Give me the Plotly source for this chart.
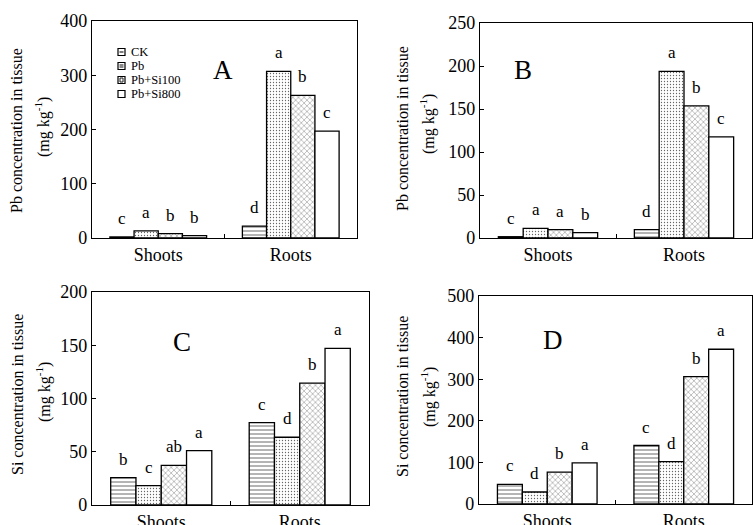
import plotly.graph_objects as go

categories = ["Shoots", "Roots"]
treatments = ["CK", "Pb", "Pb+Si100", "Pb+Si800"]

# Panel A: Pb concentration (mg kg-1)
A_vals = {
    "CK": [2, 22],
    "Pb": [13, 307],
    "Pb+Si100": [8, 263],
    "Pb+Si800": [4.5, 197],
}
A_letters = {"CK": ["c", "d"], "Pb": ["a", "a"], "Pb+Si100": ["b", "b"], "Pb+Si800": ["b", "c"]}

# Panel B
B_vals = {
    "CK": [1.5, 9.7],
    "Pb": [11.3, 193.7],
    "Pb+Si100": [9.7, 153.7],
    "Pb+Si800": [6.2, 117.6],
}
B_letters = {"CK": ["c", "d"], "Pb": ["a", "a"], "Pb+Si100": ["a", "b"], "Pb+Si800": ["b", "c"]}

# Panel C: Si concentration
C_vals = {
    "CK": [25.7, 77.4],
    "Pb": [18.2, 63.6],
    "Pb+Si100": [37.3, 114.4],
    "Pb+Si800": [51.1, 147],
}
C_letters = {"CK": ["b", "c"], "Pb": ["c", "d"], "Pb+Si100": ["ab", "b"], "Pb+Si800": ["a", "a"]}

# Panel D
D_vals = {
    "CK": [47, 140.6],
    "Pb": [28.8, 102],
    "Pb+Si100": [76.7, 306],
    "Pb+Si800": [99, 372],
}
D_letters = {"CK": ["c", "c"], "Pb": ["d", "d"], "Pb+Si100": ["b", "b"], "Pb+Si800": ["a", "a"]}

panel_names = ["A", "B", "C", "D"]
y_ranges = [400, 250, 200, 500]
y_dtick = [100, 50, 50, 100]
y_titles = ["Pb concentration in tissue", "Pb concentration in tissue",
            "Si concentration in tissue", "Si concentration in tissue"]

FONT = "Liberation Serif, Times New Roman, serif"
patterns = {
    "CK": dict(shape="-", size=4, solidity=0.2, fgcolor="#444", bgcolor="white"),
    "Pb": dict(shape=".", size=3, solidity=0.15, fgcolor="#666", bgcolor="white"),
    "Pb+Si100": dict(shape="x", size=4, solidity=0.18, fgcolor="#555", bgcolor="white"),
    "Pb+Si800": dict(shape="", bgcolor="white"),
}

W, H = 753, 525
domains = [
    ((92, 357), (21, 238)),
    ((480, 752), (23, 238)),
    ((92, 369), (292, 505)),
    ((479, 752), (296, 504)),
]
panel_label_pos = [(223, 70), (523, 70), (182, 342), (553, 340)]
title_pos = [((17, 131), (43, 127)), ((402, 129), (428, 124)),
             ((17, 395), (43, 392)), ((402, 397), (428, 397))]

bargap = 0.27
gw = 1 - bargap

fig = go.Figure()
all_vals = [A_vals, B_vals, C_vals, D_vals]
all_letters = [A_letters, B_letters, C_letters, D_letters]
annotations = []
shapes = []
for p in range(4):
    xa = "x" if p == 0 else f"x{p+1}"
    ya = "y" if p == 0 else f"y{p+1}"
    for ti, t in enumerate(treatments):
        fig.add_trace(go.Bar(
            x=categories, y=all_vals[p][t], name=t, xaxis=xa, yaxis=ya,
            marker=dict(color="white", pattern=patterns[t],
                        line=dict(color="black", width=1.3)),
            showlegend=False, legendgroup=t,
        ))
        for ci in range(len(categories)):
            off = -gw / 2 + gw / 8 + ti * gw / 4
            annotations.append(dict(
                x=ci + off, y=all_vals[p][t][ci], xref=xa, yref=ya,
                text=all_letters[p][t][ci], showarrow=False,
                xanchor="center", yanchor="bottom", yshift=7,
                font=dict(family=FONT, size=17, color="black"),
            ))
    (x0, x1), (y0, y1) = domains[p]
    axis_common = dict(showline=True, linecolor="black", linewidth=1.3, mirror=True,
                       showgrid=False, zeroline=False, ticks="inside", ticklen=4,
                       tickcolor="black", automargin=False,
                       tickfont=dict(family=FONT, size=18, color="black"))
    fig.layout[f"xaxis{'' if p == 0 else p+1}"] = dict(
        domain=[x0 / W, x1 / W], anchor=ya, type="category", range=[-0.5, 1.5],
        tickson="boundaries", **axis_common)
    fig.layout[f"yaxis{'' if p == 0 else p+1}"] = dict(
        domain=[1 - y1 / H, 1 - y0 / H], anchor=xa, range=[0, y_ranges[p]],
        dtick=y_dtick[p], **axis_common)
    lx, ly = panel_label_pos[p]
    annotations.append(dict(x=lx / W, y=1 - ly / H, xref="paper", yref="paper",
                            xanchor="center", yanchor="middle",
                            text=panel_names[p], showarrow=False,
                            font=dict(family=FONT, size=27, color="black")))
    (t1x, t1y), (t2x, t2y) = title_pos[p]
    annotations.append(dict(x=t1x / W, y=1 - t1y / H, xref="paper", yref="paper",
                            xanchor="center", yanchor="middle",
                            text=y_titles[p], showarrow=False, textangle=-90,
                            font=dict(family=FONT, size=16, color="black")))
    annotations.append(dict(x=t2x / W, y=1 - t2y / H, xref="paper", yref="paper",
                            xanchor="center", yanchor="middle",
                            text="(mg kg<sup>-1</sup>)", showarrow=False, textangle=-90,
                            font=dict(family=FONT, size=16, color="black")))

# Compact legend (panel A): small boxed swatches with labels
leg_x, leg_y0, leg_dy, box = 118, 52, 14, 7
for ti, t in enumerate(treatments):
    cy = leg_y0 + ti * leg_dy
    shapes.append(dict(type="rect", xref="paper", yref="paper",
                       x0=leg_x / W, x1=(leg_x + box) / W,
                       y0=1 - (cy + box / 2) / H, y1=1 - (cy - box / 2) / H,
                       line=dict(color="black", width=1.2), fillcolor="white"))
    if t == "CK":
        shapes.append(dict(type="line", xref="paper", yref="paper",
                           x0=(leg_x + 1.5) / W, x1=(leg_x + box - 1.5) / W,
                           y0=1 - cy / H, y1=1 - cy / H,
                           line=dict(color="#222", width=1.2)))
    elif t == "Pb":
        shapes.append(dict(type="rect", xref="paper", yref="paper",
                           x0=(leg_x + 1.5) / W, x1=(leg_x + box - 1.5) / W,
                           y0=1 - (cy + 2) / H, y1=1 - (cy - 2) / H,
                           line=dict(width=0), fillcolor="#888"))
    elif t == "Pb+Si100":
        shapes.append(dict(type="rect", xref="paper", yref="paper",
                           x0=(leg_x + 2) / W, x1=(leg_x + box - 2) / W,
                           y0=1 - (cy + 2) / H, y1=1 - (cy - 2) / H,
                           line=dict(color="#222", width=1), fillcolor="white"))
    annotations.append(dict(x=(leg_x + box + 4) / W, y=1 - cy / H, xref="paper", yref="paper",
                            xanchor="left", yanchor="middle", text=t, showarrow=False,
                            font=dict(family=FONT, size=12.5, color="black")))

fig.update_layout(
    template="none",
    width=W, height=H,
    margin=dict(l=0, r=0, t=0, b=0),
    paper_bgcolor="white", plot_bgcolor="white",
    barmode="group", bargap=bargap, bargroupgap=0,
    annotations=annotations,
    shapes=shapes,
    showlegend=False,
)

fig.write_html("out.html", config={"displayModeBar": False},
               post_script="document.body.style.margin='0';document.body.style.overflow='hidden';")
